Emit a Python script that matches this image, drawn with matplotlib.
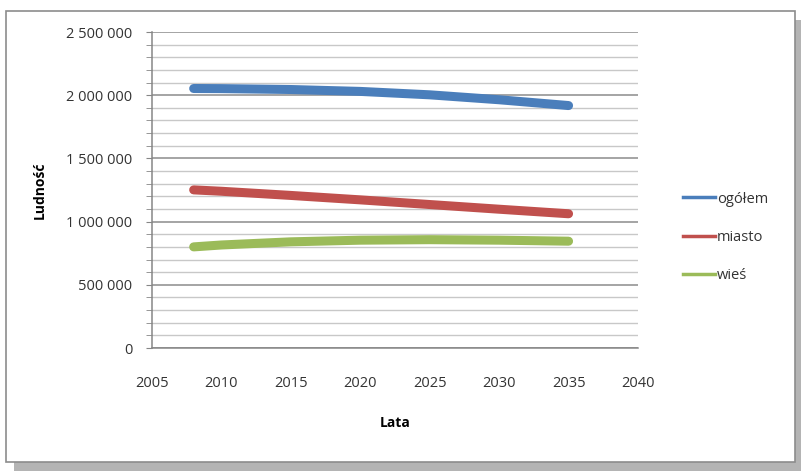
import matplotlib
matplotlib.use("Agg")
import matplotlib.pyplot as plt
from matplotlib.patches import Rectangle
from matplotlib.lines import Line2D
from matplotlib.ticker import MultipleLocator, FuncFormatter

# Data
years = [2008, 2010, 2015, 2020, 2025, 2030, 2035]
ogolem = [2053000, 2052000, 2045000, 2030000, 2003000, 1964000, 1918000]
miasto = [1251000, 1240000, 1207000, 1172000, 1135000, 1098000, 1062000]
wies = [800000, 815000, 840000, 853000, 857000, 853000, 845000]
series_names = ['ogółem', 'miasto', 'wieś']
colors = ['#4A7EBB', '#C0504D', '#9BBB59']

plt.rcParams['font.family'] = ['Open Sans', 'DejaVu Sans']

W, H = 801, 471
fig = plt.figure(figsize=(W / 100, H / 100), dpi=100)
fig.patch.set_facecolor('white')

# chart frame with shadow (pixel coords converted to figure fractions)
def px_rect(x0, y0, x1, y1, **kw):
    return Rectangle((x0 / W, 1 - y1 / H), (x1 - x0) / W, (y1 - y0) / H,
                     transform=fig.transFigure, **kw)

fig.patches.append(px_rect(14, 20, 801, 471, facecolor='#b4b4b4', edgecolor='none', zorder=0))
fig.patches.append(px_rect(6, 11, 795, 462, facecolor='white', edgecolor='#8c8c8c',
                           linewidth=1.2, zorder=1))

ax = fig.add_axes([152 / W, 1 - 348 / H, 486 / W, 316 / H])
ax.set_facecolor('none')
ax.set_zorder(2)

for vals, name, c in zip([ogolem, miasto, wies], series_names, colors):
    ax.plot(years, vals, color=c, linewidth=6.5, solid_capstyle='round',
            solid_joinstyle='round', label=name, zorder=3)

ax.set_xlim(2005, 2040)
ax.set_ylim(0, 2500000)
ax.set_xticks(range(2005, 2041, 5))
ax.yaxis.set_major_locator(MultipleLocator(500000))
ax.yaxis.set_minor_locator(MultipleLocator(100000))
ax.yaxis.set_major_formatter(FuncFormatter(lambda v, p: f'{v:,.0f}'.replace(',', ' ')))

ax.grid(axis='y', which='major', color='#8c8c8c', linewidth=1.1)
ax.grid(axis='y', which='minor', color='#c8c8c8', linewidth=1.0)
ax.set_axisbelow(True)

for s in ['top', 'right']:
    ax.spines[s].set_visible(False)
for s in ['left', 'bottom']:
    ax.spines[s].set_color('#868686')
    ax.spines[s].set_linewidth(1.1)

ax.tick_params(axis='y', which='both', length=4, color='#868686', labelsize=10.5,
               labelcolor='#333333', pad=10)
ax.tick_params(axis='x', length=0, labelsize=10.5, labelcolor='#333333', pad=20)

ax.set_ylabel('Ludność', fontsize=10, fontweight='bold', labelpad=14)
ax.set_xlabel('Lata', fontsize=10, fontweight='bold', labelpad=18)

handles = [Line2D([0], [0], color=c, linewidth=2.5) for c in colors]
ax.legend(handles, series_names, loc='center left', bbox_to_anchor=(1.065, 0.35),
          frameon=False, fontsize=10.5, handlelength=2.2, handletextpad=0.15,
          labelspacing=1.6, labelcolor='#333333')

plt.savefig('out.png', dpi=100, facecolor='white')
